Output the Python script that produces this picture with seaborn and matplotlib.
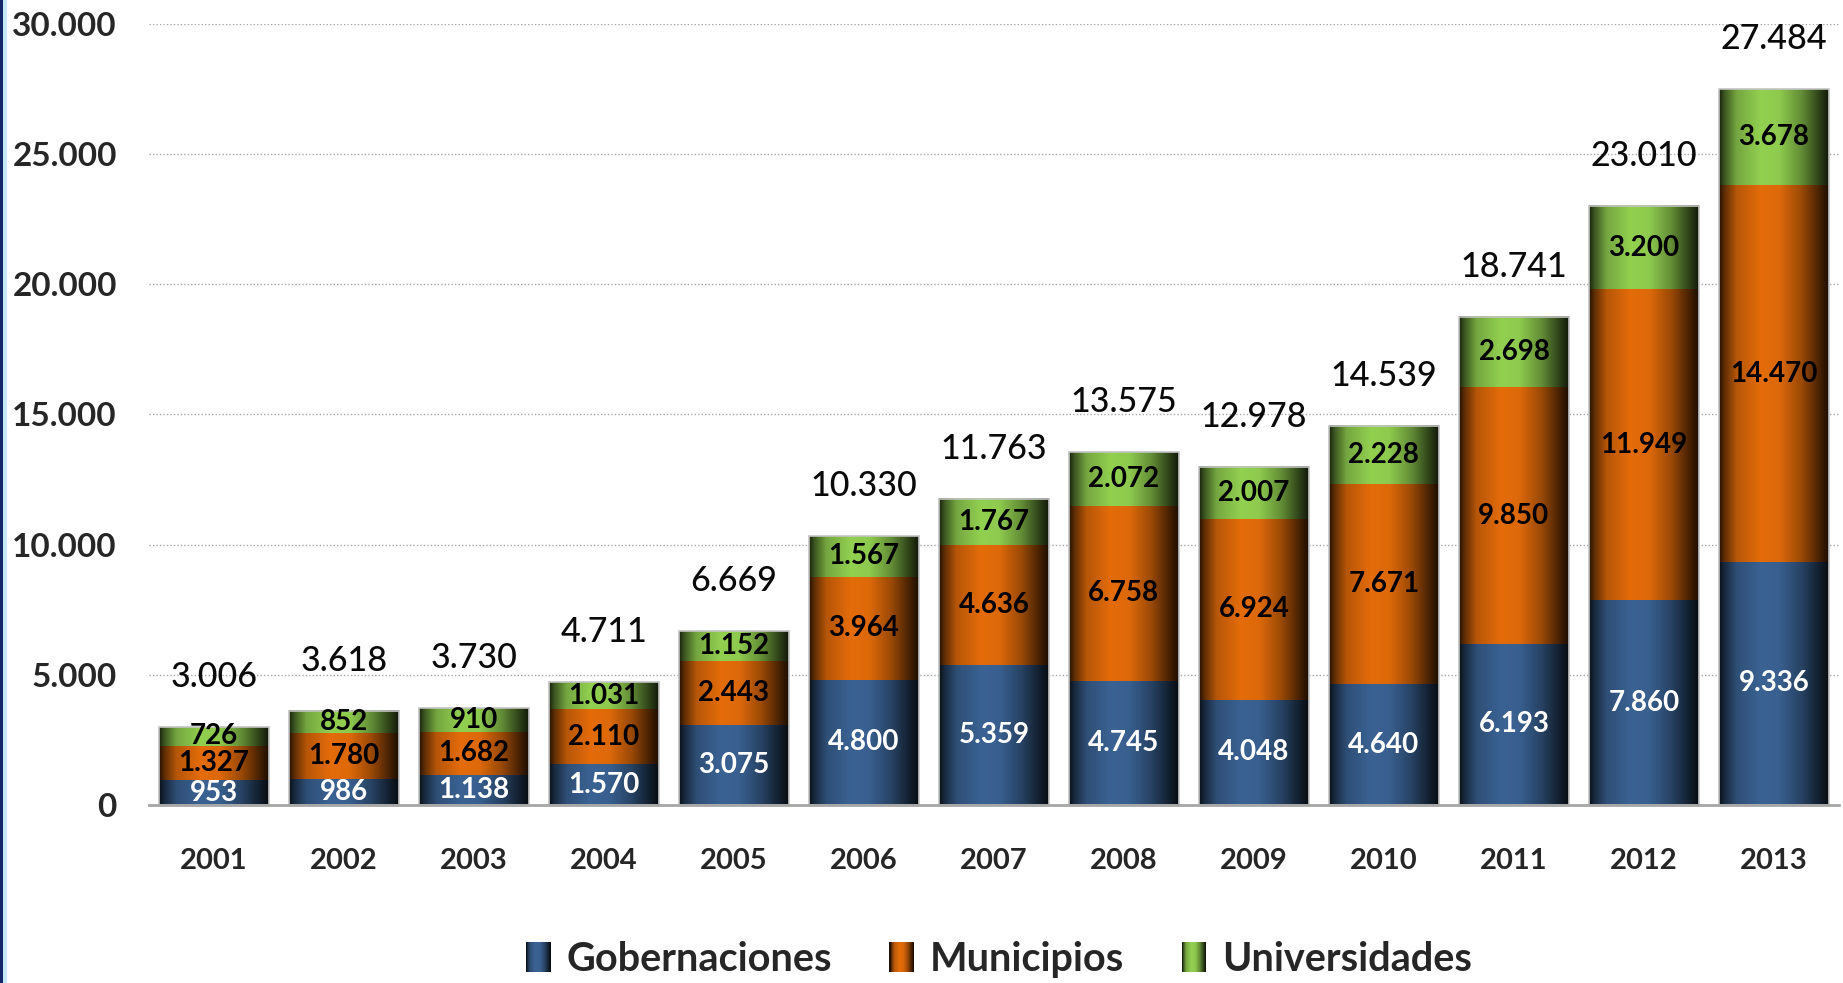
import numpy as np
import matplotlib
matplotlib.use("Agg")
import matplotlib.pyplot as plt
import matplotlib.patches as mpatches
from matplotlib.legend_handler import HandlerBase
from matplotlib.colors import to_rgb
import seaborn as sns

# ---- data -------------------------------------------------------------
years = ["2001", "2002", "2003", "2004", "2005", "2006", "2007",
         "2008", "2009", "2010", "2011", "2012", "2013"]
gobernaciones = [953, 986, 1138, 1570, 3075, 4800, 5359,
                 4745, 4048, 4640, 6193, 7860, 9336]
municipios = [1327, 1780, 1682, 2110, 2443, 3964, 4636,
              6758, 6924, 7671, 9850, 11949, 14470]
universidades = [726, 852, 910, 1031, 1152, 1567, 1767,
                 2072, 2007, 2228, 2698, 3200, 3678]
totales = [3006, 3618, 3730, 4711, 6669, 10330, 11763,
           13575, 12978, 14539, 18741, 23010, 27484]
series_names = ["Gobernaciones", "Municipios", "Universidades"]
y_ticks = [0, 5000, 10000, 15000, 20000, 25000, 30000]

# ---- style ------------------------------------------------------------
BLUE = "#3A6293"
ORANGE = "#E46C0A"
GREEN = "#92D050"
FONT = ["Lato", "DejaVu Sans"]

sns.set_theme(style="white")
plt.rcParams["font.family"] = FONT


def fmt(v):
    return f"{v:,}".replace(",", ".")


def shade_profile(n=256):
    # horizontal "cylinder" shading: dark edges, light band left of centre
    t = np.linspace(0, 1, n)
    xp = [0.0, 0.05, 0.16, 0.38, 0.55, 0.75, 0.92, 1.0]
    fp = [0.16, 0.42, 0.80, 1.0, 0.97, 0.68, 0.30, 0.12]
    return np.interp(t, xp, fp)


def gradient(color, n=256):
    base = np.array(to_rgb(color))
    f = shade_profile(n)[:, None]
    return np.clip(base[None, :] * f, 0, 1)[None, :, :]


class GradientHandler(HandlerBase):
    def __init__(self, color):
        super().__init__()
        self.color = color

    def create_artists(self, legend, orig_handle, xdescent, ydescent,
                       width, height, fontsize, trans):
        g = gradient(self.color, 24)[0]
        n = len(g)
        arts = []
        for k in range(n):
            arts.append(mpatches.Rectangle(
                (-xdescent + width * k / n, -ydescent), width / n * 1.08, height,
                facecolor=g[k], edgecolor="none", transform=trans))
        return arts


# ---- figure -----------------------------------------------------------
fig, ax = plt.subplots(figsize=(18.43, 9.83), dpi=100)
fig.subplots_adjust(left=0.0808, right=0.9978, bottom=0.1811, top=0.9756)

gob = np.array(gobernaciones)
mun = np.array(municipios)
uni = np.array(universidades)
stack_top = gob + mun + uni
stack_mid = gob + mun

BAR_W = 0.845
# cumulative layers, tallest first so shorter ones sit on top
for vals, col in [(stack_top, GREEN), (stack_mid, ORANGE), (gob, BLUE)]:
    sns.barplot(x=years, y=vals, color=col, width=BAR_W, saturation=1,
                errorbar=None, linewidth=0, ax=ax)

n = len(years)
patches = list(ax.patches)
segments = [(np.zeros(n), gob, BLUE), (gob, stack_mid, ORANGE),
            (stack_mid, stack_top, GREEN)]
for i in range(n):
    p = patches[i]
    x0, w = p.get_x(), p.get_width()
    for lo, hi, col in segments:
        ax.imshow(gradient(col), extent=(x0, x0 + w, lo[i], hi[i]),
                  aspect="auto", interpolation="bilinear", zorder=2)

for k, p in enumerate(patches):
    if k < n:
        p.set_facecolor("none")
        p.set_edgecolor("#c4c4c4")
        p.set_linewidth(1.2)
        p.set_zorder(3)
    else:
        p.set_visible(False)

ax.set_xlim(-0.5, n - 0.5)
ax.set_ylim(0, 30000)

# ---- value labels -----------------------------------------------------
for i in range(n):
    ax.text(i, gob[i] / 2, fmt(gob[i]), ha="center", va="center",
            fontsize=20, fontweight="bold", color="white", zorder=5)
    ax.text(i, gob[i] + mun[i] / 2, fmt(mun[i]), ha="center", va="center",
            fontsize=20, fontweight="bold", color="black", zorder=5)
    ax.text(i, stack_mid[i] + uni[i] / 2, fmt(uni[i]), ha="center", va="center",
            fontsize=20, fontweight="bold", color="black", zorder=5)
    ax.annotate(fmt(totales[i]), xy=(i, totales[i]), xytext=(0, 36),
                textcoords="offset points", ha="center", va="center",
                fontsize=24.5, fontweight="medium", color="#0a0a0a",
                zorder=5, annotation_clip=False)

# ---- axes -------------------------------------------------------------
ax.set_yticks(y_ticks)
ax.set_yticklabels([fmt(v) for v in y_ticks])
ax.tick_params(axis="y", length=0, pad=23, labelsize=24)
ax.tick_params(axis="x", length=0, pad=31, labelsize=21)
for lab in ax.get_yticklabels() + ax.get_xticklabels():
    lab.set_fontweight("bold")
ax.set_xlabel("")
ax.set_ylabel("")

ax.set_axisbelow(True)
ax.yaxis.grid(True, color="#a8a8a8", linestyle=(0, (1, 1.5)), linewidth=1)
ax.xaxis.grid(False)
for s in ["left", "right", "top"]:
    ax.spines[s].set_visible(False)
ax.spines["bottom"].set_color("#a6a6a6")
ax.spines["bottom"].set_linewidth(2)
ax.spines["bottom"].set_zorder(4)

# ---- legend -----------------------------------------------------------
handles = [mpatches.Patch(label=nm) for nm in series_names]
hmap = {h: GradientHandler(c) for h, c in zip(handles, [BLUE, ORANGE, GREEN])}
ax.legend(handles=handles, handler_map=hmap, loc="center",
          bbox_to_anchor=(0.503, -0.198), ncol=3, frameon=False,
          handlelength=0.62, handleheight=0.78, handletextpad=0.4,
          columnspacing=1.45,
          prop={"family": FONT, "weight": "bold", "size": 28.5})

# ---- left edge band ---------------------------------------------------
fig.add_artist(mpatches.Rectangle((0, 0), 3.3 / 1843, 1, transform=fig.transFigure,
                                  facecolor="#13266a", edgecolor="none"))
fig.add_artist(mpatches.Rectangle((3.3 / 1843, 0), 4 / 1843, 1,
                                  transform=fig.transFigure,
                                  facecolor="#c6e8f6", edgecolor="none"))

fig.savefig("out.png", dpi=100)
